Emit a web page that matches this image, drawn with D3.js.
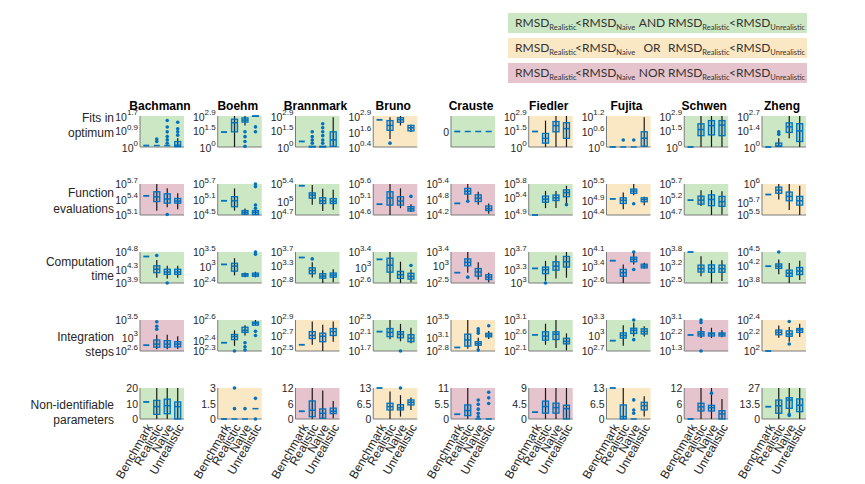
<!DOCTYPE html>
<html>
<head>
<meta charset="utf-8">
<script src="https://cdn.jsdelivr.net/npm/d3@7"></script>
<style>
  body { margin: 0; background: #fff; }
  text { font-family: Arial, "Liberation Sans", sans-serif; }
</style>
</head>
<body>
<div id="chart"></div>
<script>
var models = ["Bachmann", "Boehm", "Brannmark", "Bruno", "Crauste", "Fiedler", "Fujita", "Schwen", "Zheng"];
var metrics = ["Fits in optimum", "Function evaluations", "Computation time", "Integration steps", "Non-identifiable parameters"];
var metricLines = [["Fits in", "optimum"], ["Function", "evaluations"], ["Computation", "time"], ["Integration", "steps"], ["Non-identifiable", "parameters"]];
var groups = ["Benchmark", "Realistic", "Naive", "Unrealistic"];
// rows 0-3 are stored as log10 values, row 4 is a plain count
var logRow = [true, true, true, true, false];

var yTicks = [
    [[0, 0.9, 1.7], [0, 1.5, 2.9], [0, 1.5, 2.9], [0.4, 1.6, 2.9], [0], [0, 1.5, 2.9], [0, 0.6, 1.2], [0, 1.5, 2.9], [0, 1.4, 2.7]],
    [[5.1, 5.4, 5.7], [4.5, 5.1, 5.7], [4.7, 5, 5.4], [4.6, 5.1, 5.6], [4.2, 4.8, 5.4], [4.9, 5.4, 5.8], [4.4, 4.9, 5.5], [4.7, 5.2, 5.7], [5.5, 5.7, 6]],
    [[3.9, 4.3, 4.8], [2.4, 3, 3.5], [2.8, 3.3, 3.7], [2.6, 3, 3.4], [2.5, 3, 3.4], [3, 3.3, 3.7], [2.6, 3.4, 4.1], [2.5, 3.2, 3.8], [3.8, 4.2, 4.5]],
    [[2.6, 3, 3.5], [2.3, 2.4, 2.6], [2.5, 2.7, 2.9], [1.7, 2.1, 2.5], [2.8, 3.1, 3.5], [2.1, 2.6, 3.1], [2.7, 3, 3.3], [1.3, 2.2, 3.1], [2, 2.2, 2.4]],
    [[0, 10, 20], [0, 1.5, 3], [0, 6, 12], [0, 6.5, 13], [0, 5.5, 11], [0, 4.5, 9], [0, 6.5, 13], [0, 6, 12], [0, 13.5, 27]]
];

// which RMSD condition holds for each panel
var outcome = [
    ["and", "and", "and", "or", "and", "or", "or", "and", "and"],
    ["nor", "and", "and", "nor", "nor", "and", "or", "and", "or"],
    ["and", "and", "and", "and", "nor", "and", "nor", "and", "and"],
    ["nor", "and", "or", "and", "or", "and", "and", "nor", "or"],
    ["and", "or", "nor", "or", "nor", "nor", "or", "nor", "and"]
];

var benchmark = [
    [0.08, 1.4, 0.52, 2.59, 0, 1.45, 0, 0, 0],
    [5.47, 5.05, 5.36, 4.95, 4.65, 4.9, 4.97, 5.18, 5.83],
    [4.67, 3.06, 3.54, 3.21, 2.8, 3.33, 3.68, 3.8, 4.18],
    [2.77, 2.38, 2.58, 2.2, 2.88, 2.62, 2.9, 2.23, 2.0],
    [11, 0, 3, 13, 1.7, 2, 13, 0, 10.7]
];

// [lower whisker, q1, median, q3, upper whisker, [outliers]]
var realistic = [
    [[0.08, 0.08, 0.08, 0.08, 0.08, [0.3, 0.44]], [0, 1.42, 2.27, 2.6, 2.9, []], [0, 0, 0.04, 0.06, 0.1, [0.36, 0.66, 0.97, 1.42]],
     [1.05, 1.75, 2.14, 2.53, 2.8, [0.71]], [0, 0, 0, 0, 0, []], [0, 0.36, 0.81, 1.27, 2.47, []],
     [0, 0, 0, 0, 0, [0.27]], [0, 1.06, 1.63, 2.17, 2.9, []], [0, 0.05, 0.1, 0.34, 0.76, [1.1, 1.32]]],
    [[5.18, 5.36, 5.45, 5.55, 5.7, []], [4.67, 4.82, 5.05, 5.21, 5.53, []], [4.93, 5.08, 5.15, 5.2, 5.38, []],
     [4.6, 4.92, 5.15, 5.35, 5.6, []], [4.78, 5.01, 5.12, 5.23, 5.4, [4.73]], [5.1, 5.27, 5.36, 5.45, 5.6, []],
     [4.6, 4.81, 4.92, 5.01, 5.2, []], [4.99, 5.05, 5.18, 5.31, 5.5, []], [5.75, 5.85, 5.9, 5.95, 6.0, []]],
    [[4.05, 4.2, 4.3, 4.4, 4.57, [4.7]], [2.67, 2.82, 3.0, 3.1, 3.28, []], [2.96, 3.07, 3.16, 3.24, 3.4, [3.5]],
     [2.62, 2.88, 3.06, 3.24, 3.4, []], [2.8, 3.0, 3.1, 3.2, 3.4, [2.67]], [3.05, 3.21, 3.3, 3.36, 3.5, [3.0]],
     [2.6, 2.93, 3.1, 3.26, 3.5, []], [2.78, 2.96, 3.1, 3.25, 3.62, []], [4.0, 4.13, 4.18, 4.23, 4.33, [4.5]]],
    [[2.65, 2.71, 2.8, 2.92, 3.07, [3.23, 3.32, 3.45]], [2.35, 2.41, 2.44, 2.46, 2.5, [2.3]], [2.58, 2.66, 2.7, 2.75, 2.88, []],
     [2.0, 2.07, 2.18, 2.28, 2.5, []], [2.85, 2.91, 3.05, 3.18, 3.5, []], [2.3, 2.45, 2.58, 2.72, 2.98, []],
     [2.8, 2.95, 3.0, 3.05, 3.2, []], [2.05, 2.17, 2.3, 2.42, 2.7, [1.3, 2.95, 3.1]], [2.17, 2.21, 2.24, 2.27, 2.33, []]],
    [[0, 3, 8, 12, 20, []], [0, 0, 0, 0, 0, [1, 3]], [0, 0.9, 3.4, 7, 12, []],
     [0, 3.8, 5.2, 6.6, 11.5, []], [0, 1.2, 3, 5, 11, []], [0, 1.7, 3.6, 5.2, 9, []],
     [0, 0, 1, 5.9, 13, []], [0, 3.1, 4.7, 6.1, 12, []], [0, 5, 11.5, 16.5, 27, []]]
];

var naive = [
    [[0.08, 0.08, 0.08, 0.08, 0.08, [0.21, 0.39, 0.57, 0.83, 1.1, 1.45]], [2.0, 2.33, 2.52, 2.72, 2.9, [1.42, 0.97, 0.52, 0.06]],
     [0, 0, 0.04, 0.06, 0.1, [0.36, 0.66, 1.06, 1.42, 1.8, 2.17]], [2.14, 2.4, 2.6, 2.76, 2.9, []], [0, 0, 0, 0, 0, []],
     [0, 1.42, 2.0, 2.38, 2.9, []], [0, 0, 0, 0, 0, [0.27]], [0, 1.13, 2.0, 2.47, 2.9, []], [0.76, 1.27, 1.76, 2.1, 2.7, []]],
    [[5.25, 5.33, 5.41, 5.51, 5.62, [5.11]], [4.5, 4.53, 4.6, 4.67, 4.75, []], [4.79, 4.96, 5.02, 5.09, 5.29, []],
     [4.82, 4.92, 5.05, 5.19, 5.46, []], [4.6, 4.72, 4.85, 4.98, 5.1, []], [5.1, 5.32, 5.4, 5.48, 5.6, []],
     [5.1, 5.17, 5.25, 5.32, 5.5, [4.8]], [4.7, 5.0, 5.2, 5.35, 5.5, []], [5.58, 5.73, 5.8, 5.87, 6.0, []]],
    [[4.02, 4.15, 4.22, 4.3, 4.4, [3.9]], [2.6, 2.64, 2.69, 2.73, 2.77, []], [2.8, 2.94, 3.0, 3.07, 3.17, []],
     [2.6, 2.72, 2.81, 2.9, 3.15, []], [2.6, 2.7, 2.82, 2.92, 3.1, []], [3.1, 3.29, 3.38, 3.48, 3.62, []],
     [3.5, 3.63, 3.75, 3.85, 4.05, [3.25, 4.1]], [2.5, 2.95, 3.1, 3.26, 3.45, []], [3.8, 3.95, 4.02, 4.09, 4.25, []]],
    [[2.65, 2.71, 2.8, 2.9, 3.07, []], [2.45, 2.48, 2.5, 2.53, 2.55, [2.31, 2.34, 2.38]], [2.5, 2.62, 2.69, 2.73, 2.84, []],
     [1.95, 2.04, 2.13, 2.2, 2.4, [1.7]], [2.84, 2.93, 2.97, 3.01, 3.1, [2.82, 3.2, 3.25, 3.3]], [2.2, 2.47, 2.64, 2.72, 3.1, []],
     [2.98, 3.04, 3.1, 3.14, 3.25, [2.92, 3.3]], [2.05, 2.17, 2.3, 2.35, 2.65, []], [2.12, 2.19, 2.22, 2.26, 2.31, [2.09, 2.38]]],
    [[0, 3.4, 8.6, 12.8, 20, []], [0, 0, 0, 0, 0, [1]], [0, 0.3, 2.2, 3.9, 11, []],
     [1, 3.8, 4.7, 6, 10, [13]], [0, 0, 0, 0, 0, [0.8, 2, 3.5, 5.2, 6.7]], [0, 1.7, 3.3, 4.6, 9, []],
     [0, 0, 0, 0, 0, [2.4, 3.8, 8]], [0, 3.1, 4.4, 5.3, 12, [10]], [5, 9.3, 16.5, 18.5, 27, [3, 4]]]
];

var unrealistic = [
    [[0, 0.02, 0.1, 0.3, 0.5, [0.65, 0.83, 1.0, 1.36]], [2.85, 2.87, 2.9, 2.9, 2.9, [1.88, 1.42]], [0, 0.06, 0.67, 1.42, 2.78, []],
     [1.6, 1.7, 1.95, 2.14, 2.2, []], [0, 0, 0, 0, 0, []], [0, 0.81, 1.72, 2.27, 2.9, []],
     [0, 0.03, 0.34, 0.59, 1.15, []], [0, 1.06, 2.05, 2.47, 2.9, []], [0, 0.48, 1.4, 2.03, 2.7, []]],
    [[5.21, 5.33, 5.37, 5.42, 5.52, []], [4.5, 4.52, 4.6, 4.67, 4.72, [4.76, 4.89, 5.6, 5.7]], [4.82, 4.96, 5.01, 5.07, 5.27, []],
     [4.7, 4.73, 4.8, 4.87, 4.95, [5.2]], [4.25, 4.37, 4.45, 4.55, 4.65, []], [5.24, 5.43, 5.55, 5.63, 5.75, [5.2]],
     [4.75, 4.87, 4.95, 5.01, 5.05, []], [4.72, 4.98, 5.13, 5.3, 5.47, []], [5.5, 5.66, 5.73, 5.8, 5.97, []]],
    [[4.05, 4.15, 4.22, 4.3, 4.4, []], [2.6, 2.64, 2.69, 2.75, 2.8, [3.42, 3.5]], [2.82, 2.97, 3.03, 3.09, 3.2, []],
     [2.62, 2.7, 2.77, 2.85, 2.95, [3.05]], [2.52, 2.6, 2.67, 2.74, 2.8, []], [3.12, 3.36, 3.48, 3.6, 3.7, []],
     [3.3, 3.33, 3.42, 3.51, 3.58, []], [2.58, 2.95, 3.1, 3.25, 3.45, []], [3.87, 3.99, 4.07, 4.15, 4.3, []]],
    [[2.66, 2.72, 2.8, 2.87, 3.03, []], [2.55, 2.55, 2.57, 2.58, 2.6, [2.45, 2.49]], [2.62, 2.7, 2.75, 2.79, 2.88, []],
     [1.9, 1.94, 2.03, 2.12, 2.3, []], [3.07, 3.12, 3.16, 3.2, 3.25, [3.37]], [2.12, 2.33, 2.41, 2.51, 2.67, []],
     [2.98, 3.03, 3.08, 3.13, 3.18, []], [2.1, 2.17, 2.28, 2.35, 2.5, []], [2.18, 2.24, 2.27, 2.29, 2.35, []]],
    [[0, 0, 8, 11, 20, []], [1, 1, 1, 1, 1, [0, 2]], [0.3, 2.1, 3, 4.2, 7, []],
     [3.8, 5.9, 7, 8, 9, []], [0, 0, 0, 0, 0, [5.5, 7.5, 9.5]], [0, 0, 3, 4, 9, []],
     [1, 3.8, 5.6, 7, 9.5, []], [0, 0, 2, 3.2, 7.7, []], [0, 6.4, 12, 17.5, 27, []]]
];

var legendRows = [
    { key: "and", op: "AND" },
    { key: "or", op: "OR" },
    { key: "nor", op: "NOR" }
];

var bgColor = { and: "#cce7c3", or: "#fae7c4", nor: "#e6c4cd" };
var boxBlue = "#0072BD";
var labelY = [[122, 137], [197, 213], [266, 280], [341, 356], [409, 424]];

var svg = d3.select("#chart")
    .append("svg")
    .attr("width", 865)
    .attr("height", 484);

var colScale = d3.scaleBand()
    .domain(models)
    .range([140, 806])
    .paddingInner(0.434);
var rowScale = d3.scaleBand()
    .domain(metrics)
    .range([116, 419])
    .paddingInner(0.544);

var pw = colScale.bandwidth();
var ph = rowScale.bandwidth();
var x = d3.scalePoint().domain(groups).range([0, pw]).padding(0.6);
var boxW = 6;

// legend
legendRows.forEach(function (lr, i) {
    var top = 13 + i * 25;
    svg.append("rect")
        .attr("x", 508).attr("y", top)
        .attr("width", 299).attr("height", 20)
        .attr("fill", bgColor[lr.key]);
    var t = svg.append("text")
        .attr("y", top + 14)
        .attr("fill", "#333")
        .style("font-family", "Lato, 'Open Sans', sans-serif")
        .style("font-size", "12px");
    var parts = [
        { s: "RMSD", x: 515 }, { s: "Realistic", sub: true }, { s: "<", x: 575 },
        { s: "RMSD", x: 582 }, { s: "Naive", sub: true },
        { s: lr.op, x: 652, anchor: true },
        { s: "RMSD", x: 668 }, { s: "Realistic", sub: true }, { s: "<", x: 729 },
        { s: "RMSD", x: 736 }, { s: "Unrealistic", sub: true }
    ];
    parts.forEach(function (p) {
        if (p.anchor) {
            svg.append("text")
                .attr("x", p.x).attr("y", top + 14)
                .attr("text-anchor", "middle")
                .attr("fill", "#333")
                .style("font-family", "Lato, 'Open Sans', sans-serif")
                .style("font-size", "12px")
                .text(p.s);
            return;
        }
        var ts = t.append("tspan").text(p.s);
        if (p.x !== undefined) ts.attr("x", p.x).attr("y", top + 14);
        if (p.sub) ts.attr("dy", 3).style("font-size", "7.5px");
    });
});

// column titles
models.forEach(function (m) {
    svg.append("text")
        .attr("x", colScale(m) + pw / 2 - 2)
        .attr("y", 110)
        .attr("text-anchor", "middle")
        .style("font-size", "12px")
        .style("font-weight", "bold")
        .text(m);
});

// row labels
metrics.forEach(function (mt, r) {
    metricLines[r].forEach(function (line, k) {
        svg.append("text")
            .attr("x", 114)
            .attr("y", labelY[r][k])
            .attr("text-anchor", "end")
            .attr("fill", "#262626")
            .style("font-size", "12px")
            .text(line);
    });
});

function drawBox(g, cx, s, y) {
    g.append("line")
        .attr("x1", cx).attr("x2", cx)
        .attr("y1", y(s[0])).attr("y2", y(s[4]))
        .attr("stroke", "#1a1a1a").attr("stroke-width", 1.2);
    g.append("rect")
        .attr("x", cx - boxW / 2)
        .attr("y", y(s[3]))
        .attr("width", boxW)
        .attr("height", Math.max(0, y(s[1]) - y(s[3])))
        .attr("fill", "rgba(0,114,189,0.22)")
        .attr("stroke", boxBlue)
        .attr("stroke-width", 1.3);
    g.append("line")
        .attr("x1", cx - boxW / 2).attr("x2", cx + boxW / 2)
        .attr("y1", y(s[2])).attr("y2", y(s[2]))
        .attr("stroke", boxBlue).attr("stroke-width", 1.5);
    g.selectAll(null)
        .data(s[5])
        .enter()
        .append("circle")
        .attr("cx", cx)
        .attr("cy", d => y(d))
        .attr("r", 1.8)
        .attr("fill", boxBlue);
}

metrics.forEach(function (mt, r) {
    models.forEach(function (m, c) {
        var ticks = yTicks[r][c];
        var dom = ticks.length > 1 ? [ticks[0], ticks[ticks.length - 1]] : [ticks[0] - 1, ticks[0] + 1];
        var y = d3.scaleLinear().domain(dom).range([ph, 0]);
        var g = svg.append("g")
            .attr("transform", "translate(" + colScale(m) + "," + rowScale(mt) + ")");

        g.append("rect")
            .attr("width", pw).attr("height", ph)
            .attr("fill", bgColor[outcome[r][c]]);

        // tick labels
        ticks.forEach(function (t) {
            var lab = g.append("text")
                .attr("x", -2)
                .attr("y", y(t) + 4.5)
                .attr("text-anchor", "end")
                .attr("fill", "#262626")
                .style("font-size", "10.5px");
            if (logRow[r] && ticks.length > 1) {
                lab.append("tspan").text("10");
                lab.append("tspan").attr("dy", -5.5).style("font-size", "8px").text(String(t));
            } else {
                lab.text(String(t));
            }
        });

        // axes lines
        g.append("line").attr("x1", 0).attr("x2", 0).attr("y1", 0).attr("y2", ph)
            .attr("stroke", "#7a7a7a").attr("stroke-width", 1);
        g.append("line").attr("x1", 0).attr("x2", pw).attr("y1", ph).attr("y2", ph)
            .attr("stroke", "#7a7a7a").attr("stroke-width", 1);

        // benchmark: single run, drawn as a flat box
        var bx = x("Benchmark");
        g.append("line")
            .attr("x1", bx - boxW / 2).attr("x2", bx + boxW / 2)
            .attr("y1", y(benchmark[r][c])).attr("y2", y(benchmark[r][c]))
            .attr("stroke", boxBlue).attr("stroke-width", 1.8);

        drawBox(g, x("Realistic"), realistic[r][c], y);
        drawBox(g, x("Naive"), naive[r][c], y);
        drawBox(g, x("Unrealistic"), unrealistic[r][c], y);

        if (r === metrics.length - 1) {
            groups.forEach(function (gr) {
                g.append("text")
                    .attr("transform", "translate(" + (x(gr) + 3) + "," + (ph + 6) + ") rotate(-60)")
                    .attr("text-anchor", "end")
                    .attr("dy", "0.35em")
                    .attr("fill", "#262626")
                    .style("font-size", "12px")
                    .text(gr);
            });
        }
    });
});
</script>
</body>
</html>
